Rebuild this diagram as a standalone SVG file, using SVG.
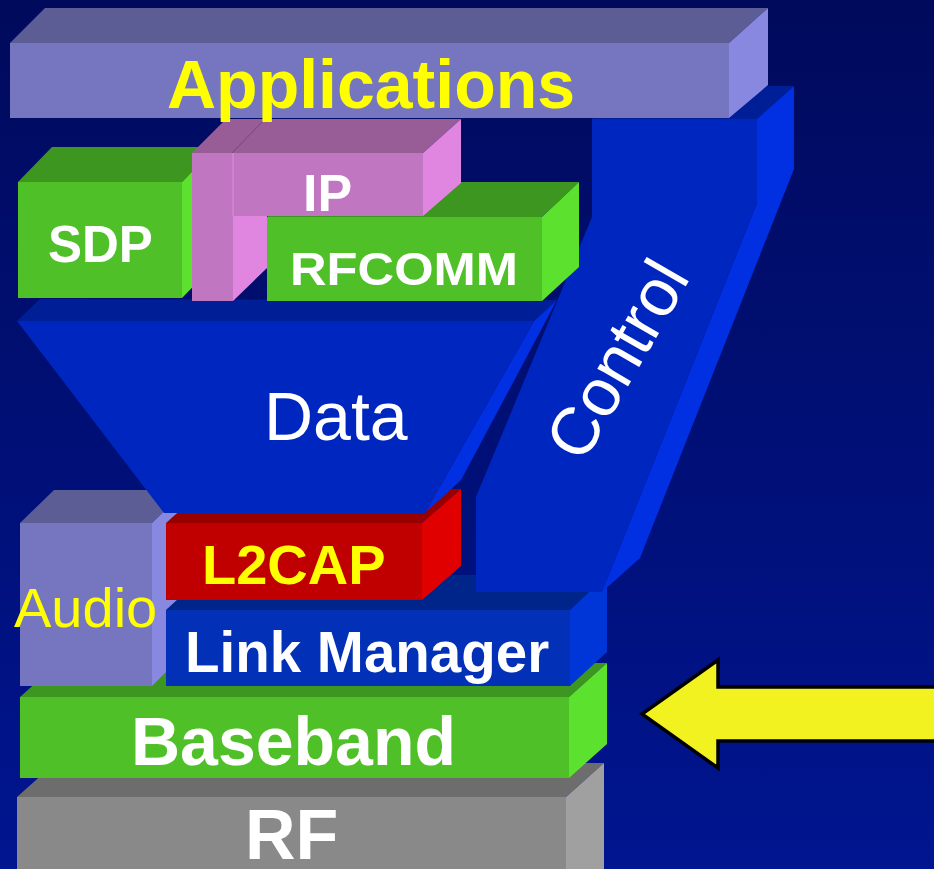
<svg xmlns="http://www.w3.org/2000/svg" width="934" height="869" viewBox="0 0 934 869">
<defs>
<linearGradient id="bg" x1="0" y1="0" x2="0" y2="1">
<stop offset="0" stop-color="#000a5c"/>
<stop offset="1" stop-color="#001590"/>
</linearGradient>
<style>
text{font-family:"Liberation Sans",Arial,sans-serif}
.b{font-weight:bold}
.w{fill:#ffffff}
.y{fill:#ffff00}
.lavF{fill:#7676c0}.lavT{fill:#5d5d95}.lavR{fill:#8888e0}
.grF{fill:#50c028}.grT{fill:#3d961f}.grR{fill:#5ce22e}
.pkF{fill:#c076c0}.pkT{fill:#985c96}.pkR{fill:#e086e0}
.blF{fill:#0026c0}.blT{fill:#001e96}.blR{fill:#0030e2}
.lmF{fill:#0230b6}.lmT{fill:#00258a}.lmR{fill:#0036d8}
.rdF{fill:#c00000}.rdT{fill:#980000}.rdR{fill:#e00000}
.gyF{fill:#898989}.gyT{fill:#6d6d6d}.gyR{fill:#a0a0a0}
</style>
</defs>
<rect width="934" height="869" fill="url(#bg)"/>

<g id="rf">
<polygon class="gyT" points="17,797 55,763 604,763 566,797"/>
<polygon class="gyR" points="566,797 604,763 604,870 566,870"/>
<rect class="gyF" x="17" y="797" width="549" height="73"/>
<text class="b w" x="245" y="859" font-size="70">RF</text>
</g>

<g id="baseband">
<polygon class="grT" points="20,697 58,663 607,663 569,697"/>
<polygon class="grR" points="569,697 607,663 607,744 569,778"/>
<rect class="grF" x="20" y="697" width="549" height="81"/>
<text class="b w" x="131" y="765" font-size="68">Baseband</text>
</g>

<g id="audio">
<polygon class="lavT" points="20,523 54,490 186,490 152,523"/>
<polygon class="lavR" points="152,523 186,490 186,652 152,686"/>
<rect class="lavF" x="20" y="523" width="132" height="163"/>
</g>

<g id="link-manager">
<polygon class="lmT" points="166,610 204,575 607,575 570,610"/>
<polygon class="lmR" points="570,610 607,575 607,652 570,686"/>
<rect class="lmF" x="166" y="610" width="404" height="76"/>
<text class="b w" x="185" y="672" font-size="56.5">Link Manager</text>
</g>

<g id="l2cap">
<polygon class="rdT" points="166,523 204,489 461,489 422,523"/>
<polygon class="rdR" points="422,523 461,489 461,566 422,600"/>
<rect class="rdF" x="166" y="523" width="256" height="77"/>
<text class="b y" x="202" y="584" font-size="56">L2CAP</text>
</g>

<g id="audio-label">
<text class="y" x="14" y="627" font-size="56">Audio</text>
</g>

<g id="control">
<polygon class="blT" points="592,119 630,86 794,86 757,119"/>
<polygon class="blR" points="757,119 794,86 794,169 640,558 602,592 757,203"/>
<polygon class="blF" points="592,119 757,119 757,203 602,592 476,592 476,497 592,217"/>
<text class="w" x="637" y="371" font-size="67" text-anchor="middle" transform="rotate(-60 637 371)">Control</text>
</g>

<g id="data">
<polygon class="blT" points="17,321 40,299 557,300 534,321"/>
<polygon class="blR" points="534,321 557,300 461,480 425,513"/>
<polygon class="blF" points="17,321 534,321 425,513 164,513"/>
<text class="w" x="264" y="440" font-size="68">Data</text>
</g>

<g id="sdp">
<polygon class="grT" points="18,182 52,147 216,147 182,182"/>
<polygon class="grR" points="182,182 216,147 216,263 182,298"/>
<rect class="grF" x="18" y="182" width="164" height="116"/>
<text class="b w" x="48" y="262" font-size="51">SDP</text>
</g>

<g id="rfcomm">
<polygon class="grT" points="267,217 305,182 579,182 542,217"/>
<polygon class="grR" points="542,217 579,182 579,267 542,301"/>
<rect class="grF" x="267" y="217" width="275" height="84"/>
<text class="b w" x="290" y="285" font-size="46" textLength="228" lengthAdjust="spacingAndGlyphs">RFCOMM</text>
</g>

<g id="ip">
<polygon class="pkT" points="192,153 226,119 461,119 423,153"/>
<line x1="232" y1="153" x2="264" y2="120" stroke="#7a4478" stroke-width="1"/>
<polygon class="pkR" points="423,153 461,119 461,183 423,216"/>
<polygon class="pkR" points="233,215 267,215 267,268 233,301"/>
<path class="pkF" d="M192,153 H423 V216 H233 V301 H192 Z"/>
<line x1="233" y1="153" x2="233" y2="216" stroke="#d884d8" stroke-width="1.5"/>
<text class="b w" x="303" y="211" font-size="52">IP</text>
</g>

<g id="applications">
<polygon class="lavT" points="10,43 45,8 768,8 729,43"/>
<polygon class="lavR" points="729,43 768,8 768,85 729,118"/>
<rect class="lavF" x="10" y="43" width="719" height="75"/>
<text class="b y" x="167" y="108" font-size="68">Applications</text>
</g>

<g id="connectors">
<polygon points="642,714 718,660 718,687 940,687 940,741 718,741 718,768" fill="#f2f220" stroke="#000000" stroke-width="3.5" stroke-linejoin="miter"/>
</g>
</svg>
